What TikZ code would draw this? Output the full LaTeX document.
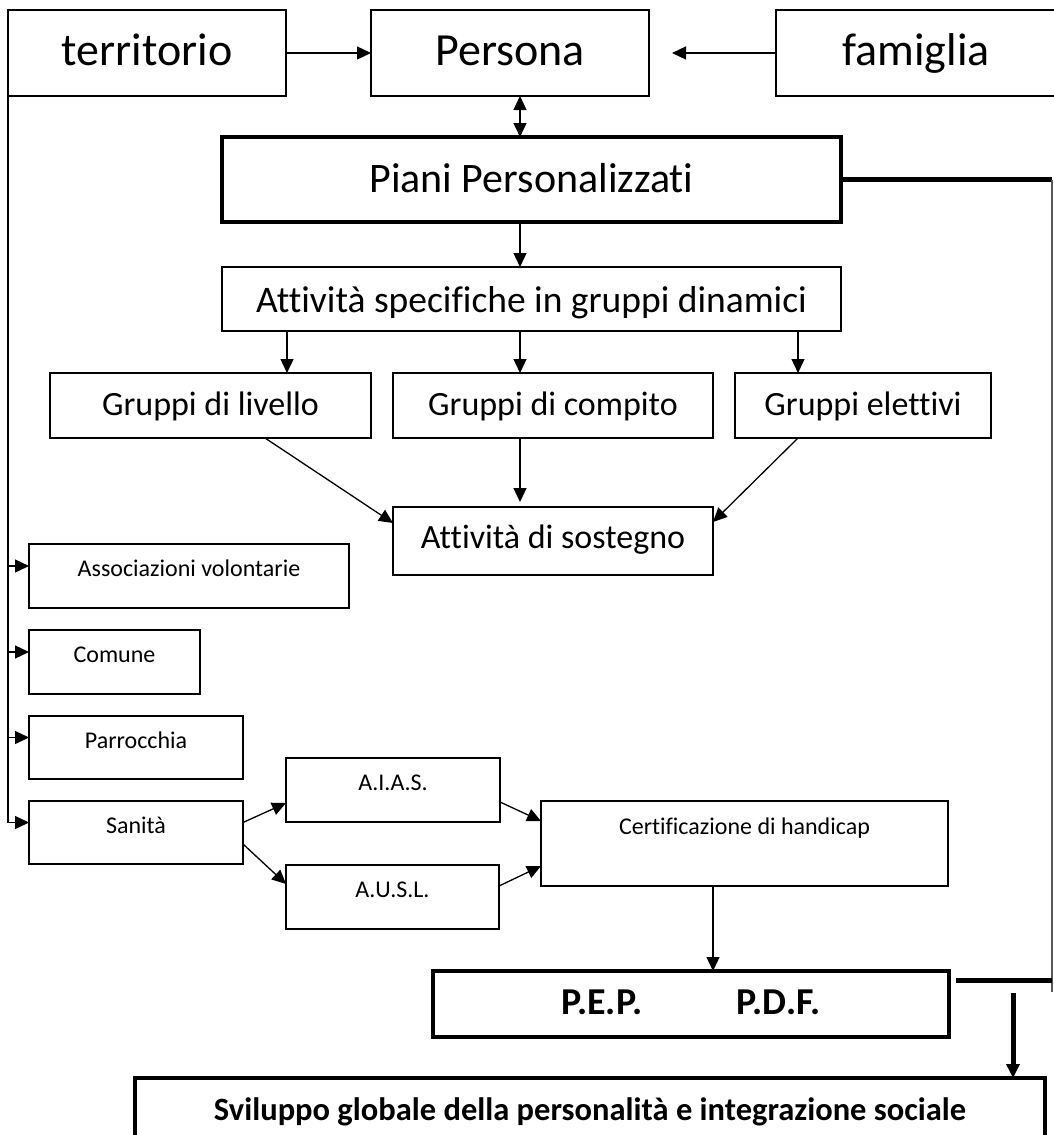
\documentclass[tikz,border=0pt]{standalone}
\usepackage{fontspec}
\setmainfont{Carlito}[Ligatures=NoCommon]
\usetikzlibrary{arrows.meta}

\begin{document}
\begin{tikzpicture}[x=1pt, y=-1pt, line width=1.3pt,
  >={Triangle[length=14pt,width=13pt]},
  box/.style={draw, rectangle, inner sep=0pt, outer sep=0pt, line width=1.5pt},
  big/.style={box, font=\fontsize{46}{52}\selectfont, text height=34pt, text depth=10pt},
  mid/.style={box, font=\fontsize{34}{40}\selectfont, text height=25pt, text depth=6pt},
  small/.style={box, font=\fontsize{24}{28}\selectfont, text height=17pt, text depth=16pt},
  heavy/.style={box, line width=4.3pt, font=\bfseries\fontsize{32.5}{38}\selectfont}]
\useasboundingbox (0,0) rectangle (1053,1135);

\node [big, minimum width=278pt, minimum height=86pt] (terr) at (147,53) {territorio};
\node [big, minimum width=278pt, minimum height=86pt] (pers) at (510,53) {Persona};
\node [big, minimum width=280pt, minimum height=86pt] (fam) at (916,53) {famiglia};
\node [box, line width=4pt, font=\fontsize{42}{48}\selectfont, text height=31pt, text depth=6pt,
  minimum width=619pt, minimum height=85pt] (piani) at (531.5,179.5) {Piani Personalizzati};

\node [mid, font=\fontsize{37.5}{44}\selectfont, text height=30pt, text depth=4pt,
  minimum width=619pt, minimum height=64pt] (attsp) at (531.5,299) {Attività specifiche in gruppi dinamici};
\node [mid, minimum width=321pt, minimum height=65pt] (liv) at (210.5,405.5) {Gruppi di livello};
\node [mid, minimum width=320pt, minimum height=65pt] (comp) at (553,405.5) {Gruppi di compito};
\node [mid, minimum width=256pt, minimum height=65pt] (elet) at (863,405.5) {Gruppi elettivi};
\node [mid, text height=24pt, text depth=10pt, minimum width=320pt, minimum height=68pt] (sost) at (553,541) {Attività di sostegno};

\node [small, minimum width=320pt, minimum height=64pt] (asso) at (189,576) {Associazioni volontarie};
\node [small, minimum width=171pt, minimum height=64pt] (comune) at (114.5,662) {Comune};
\node [small, minimum width=214pt, minimum height=63pt] (parr) at (136,747.5) {Parrocchia};
\node [small, minimum width=214pt, minimum height=63pt] (san) at (136,832.5) {Sanità};
\node [small, minimum width=214pt, minimum height=64pt] (aias) at (393,790) {A.I.A.S.};
\node [small, minimum width=213pt, minimum height=64pt] (ausl) at (392.5,897) {A.U.S.L.};
\node [small, text depth=36pt, minimum width=407pt, minimum height=85pt] (cert) at (744.5,843.5) {Certificazione di handicap};

\node [heavy, font=\bfseries\fontsize{38}{44}\selectfont, text height=27pt, text depth=7pt,
  minimum width=516pt, minimum height=66pt] (pep) at (691,1004) {P.E.P.\hspace{94.5pt}P.D.F.};
\node [heavy, minimum width=910pt, minimum height=67pt] (svil) at (590,1111.5) {Sviluppo globale della personalità e integrazione sociale\hspace{29pt}};

\coordinate (axis) at (520,0);
\coordinate (certx) at (713,0);
\coordinate (rcorner) at (1052,992);
\coordinate (pepout) at ([xshift=7pt,yshift=24pt]pep.east);
\coordinate (dn) at (1013,993);

\draw [->] (terr) -- (pers);
\draw [->] (fam) -- ([xshift=23pt]pers.east);
\draw [<->] (pers.south -| axis) -- (piani.north -| axis);
\draw [->] (piani.south -| axis) -- (attsp.north -| axis);

\foreach \g/\gx in {liv/287, comp/520, elet/798}
  \draw [->] (attsp.south -| \gx,0) -- (\g.north -| \gx,0);

\draw [->] (liv.south -| 265,0) -- ([yshift=18pt]sost.west);
\draw [->, shorten >=5pt] (comp.south -| axis) -- (sost.north -| axis);
\draw [->] (elet.south -| 798,0) -- ([yshift=19pt]sost.east);

\foreach \b in {asso, comune, parr, san}
  \draw [->] (terr.south west) |- ([yshift=10pt]\b.west);

\draw [->] ([yshift=10pt]san.east) -- ([yshift=-13pt]aias.west);
\draw [->] ([yshift=-11.5pt]san.east) -- ([yshift=13pt]ausl.west);
\draw [->] ([yshift=-12pt]aias.east) -- ([yshift=22.5pt]cert.west);
\draw [->] ([yshift=11pt]ausl.east) -- ([yshift=-22.5pt]cert.west);
\draw [->] (cert.south -| certx) -- (pep.north -| certx);

\draw [line width=5pt] (piani.east) -- (piani.east -| rcorner);
\draw [gray!70!black, line width=1.2pt] (piani.east -| rcorner) -- (rcorner);
\draw [line width=5pt] (pepout) -- (pepout -| rcorner);
\draw [->, line width=5pt] (dn) -- (dn |- svil.north);
\end{tikzpicture}
\end{document}
